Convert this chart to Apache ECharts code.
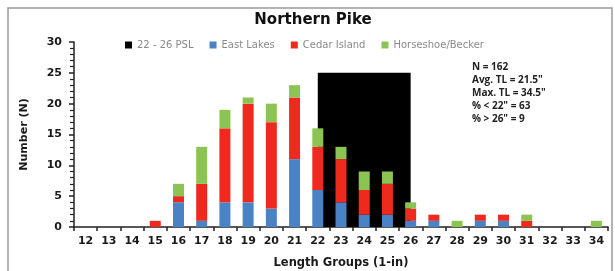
<!DOCTYPE html>
<html>
<head>
<meta charset="utf-8">
<script src="https://cdn.jsdelivr.net/npm/echarts@6/dist/echarts.min.js"></script>
<style>
  html, body { margin: 0; padding: 0; background: #fff; }
  #main { width: 615px; height: 271px; }
</style>
</head>
<body>
<div id="main"></div>
<script>
// length groups (1-in)
var lengths = ['12', '13', '14', '15', '16', '17', '18', '19', '20', '21', '22', '23',
  '24', '25', '26', '27', '28', '29', '30', '31', '32', '33', '34']
// counts per lake
var eastLakes = [0, 0, 0, 0, 4, 1, 4, 4, 3, 11, 6, 4, 2, 2, 1, 1, 0, 1, 1, 0, 0, 0, 0]
var cedarIsland = [0, 0, 0, 1, 1, 6, 12, 16, 14, 10, 7, 7, 4, 5, 2, 1, 0, 1, 1, 1, 0, 0, 0]
var horseshoeBecker = [0, 0, 0, 0, 2, 6, 3, 1, 3, 2, 3, 2, 3, 2, 1, 0, 1, 0, 0, 1, 0, 0, 1]
// protected slot limit (inches), drawn from group centre to group centre
var pslRange = [22, 26]
var pslHeight = 25
var yTicks = [0, 5, 10, 15, 20, 25, 30]
var stats = ['N = 162', 'Avg. TL = 21.5"', 'Max. TL = 34.5"', '% < 22" = 63', '% > 26" = 9']

var myChart = echarts.init(document.getElementById('main'))

var bold = { fontFamily: 'DejaVu Sans', fontWeight: 'bold', color: '#1a1a1a' }
var first = Number(lengths[0])
var last = Number(lengths[lengths.length - 1])

var option = {
  animation: false,
  backgroundColor: '#fff',
  title: {
    text: 'Northern Pike',
    left: 308,
    top: 8,
    textAlign: 'center',
    textStyle: { fontFamily: 'DejaVu Sans', fontWeight: 'bold', fontSize: 15, color: '#111' }
  },
  legend: {
    left: 120,
    top: 35,
    itemWidth: 7,
    itemHeight: 7,
    itemGap: 16,
    icon: 'rect',
    textStyle: { fontFamily: 'DejaVu Sans', fontSize: 10, color: '#8a8a8a' },
    data: ['22 - 26 PSL', 'East Lakes', 'Cedar Island', 'Horseshoe/Becker']
  },
  grid: { left: 74, right: 7, top: 42, bottom: 44, containLabel: false, outerBoundsMode: 'none' },
  xAxis: [
    {
      type: 'category',
      data: lengths,
      name: 'Length Groups (1-in)',
      nameLocation: 'middle',
      nameGap: 30,
      nameTextStyle: Object.assign({ fontSize: 11.5 }, bold),
      axisLine: { lineStyle: { color: '#222', width: 1.5 } },
      axisTick: { show: true, length: 4, alignWithLabel: false, lineStyle: { color: '#222', width: 1.5 } },
      axisLabel: Object.assign({ fontSize: 11, margin: 9, interval: 0 }, bold)
    },
    {
      // hidden numeric axis aligned with category centres, for the PSL block
      type: 'value',
      min: first - 0.5,
      max: last + 0.5,
      show: false
    }
  ],
  yAxis: {
    type: 'value',
    min: yTicks[0],
    max: yTicks[yTicks.length - 1],
    interval: 5,
    name: 'Number (N)',
    nameLocation: 'middle',
    nameGap: 44,
    nameRotate: 90,
    nameTextStyle: Object.assign({ fontSize: 11 }, bold),
    splitLine: { show: false },
    axisLine: { show: true, lineStyle: { color: '#222', width: 1.5 } },
    axisTick: { show: true, length: 5, lineStyle: { color: '#222', width: 1.5 } },
    minorTick: { show: true, splitNumber: 5, length: 4, lineStyle: { color: '#222', width: 1.2 } },
    axisLabel: Object.assign({ fontSize: 11, margin: 12 }, bold)
  },
  graphic: [
    {
      type: 'rect',
      shape: { x: 8, y: 8, width: 604, height: 275 },
      style: { fill: 'none', stroke: '#9a9a9a', lineWidth: 1.5 },
      silent: true
    },
    {
      type: 'text',
      left: 472,
      top: 61,
      style: {
        text: stats.join('\n'),
        font: 'bold 10px "Open Sans"',
        lineHeight: 13,
        fill: '#222'
      }
    }
  ],
  series: [
    {
      name: '22 - 26 PSL',
      type: 'bar',
      xAxisIndex: 1,
      data: [],
      z: 1,
      itemStyle: { color: '#000' },
      markArea: {
        silent: true,
        itemStyle: { color: '#000' },
        data: [[{ xAxis: pslRange[0], yAxis: 0 }, { xAxis: pslRange[1], yAxis: pslHeight }]]
      }
    },
    {
      name: 'East Lakes',
      type: 'bar',
      stack: 'n',
      z: 3,
      barWidth: 11,
      itemStyle: { color: '#4a82c6' },
      data: eastLakes
    },
    {
      name: 'Cedar Island',
      type: 'bar',
      stack: 'n',
      z: 3,
      barWidth: 11,
      itemStyle: { color: '#ee2a1e' },
      data: cedarIsland
    },
    {
      name: 'Horseshoe/Becker',
      type: 'bar',
      stack: 'n',
      z: 3,
      barWidth: 11,
      itemStyle: { color: '#8cc453' },
      data: horseshoeBecker
    }
  ]
}

myChart.setOption(option)
</script>
</body>
</html>
